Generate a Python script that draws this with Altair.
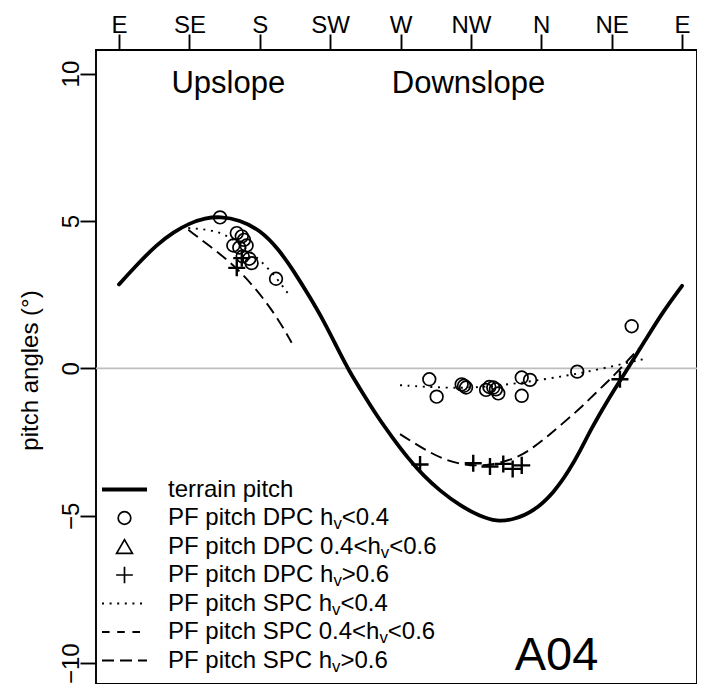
import altair as alt
import pandas as pd

# ---------------- values ----------------
dir_ticks = [90, 135, 180, 225, 270, 315, 360, 405, 450]
dir_labels = ["E", "SE", "S", "SW", "W", "NW", "N", "NE", "E"]
pitch_ticks = [-10, -5, 0, 5, 10]

# terrain pitch (solid thick line)
terrain_az = [90, 103, 114, 125, 135, 145, 155, 167, 180, 192, 202, 212, 221, 229, 237,
              246, 255, 265, 275, 285, 295, 308, 321, 331.5, 342, 355, 368, 378, 385,
              392, 399, 406, 416, 427, 438, 450]
terrain_pitch = [2.85, 3.60, 4.19, 4.63, 4.92, 5.10, 5.15, 5.04, 4.70, 4.05, 3.28, 2.42, 1.60, 0.75, -0.08,
                 -0.85, -1.62, -2.36, -3.06, -3.66, -4.14, -4.66, -5.02, -5.19, -5.14, -4.86, -4.22, -3.45, -2.78,
                 -2.05, -1.40, -0.77, 0.05, 1.00, 1.94, 2.80]

# PF pitch DPC hv<0.4 (circles)
dpc_low_az = [154.6, 165.3, 168.5, 169.9, 163.1, 166.9, 171.6, 169.1, 173.3, 174.8, 190.4,
              288.4, 293.1, 309.1, 310.6, 311.9, 324.7, 326.8, 329.3, 331.0, 332.5, 347.5,
              352.8, 347.5, 383.0, 417.8]
dpc_low_pitch = [5.12, 4.59, 4.48, 4.36, 4.17, 4.10, 4.17, 3.80, 3.72, 3.57, 3.04,
                 -0.37, -0.96, -0.54, -0.59, -0.65, -0.73, -0.63, -0.65, -0.71, -0.85, -0.31,
                 -0.39, -0.93, -0.11, 1.43]

# PF pitch DPC hv>0.6 (plus)
dpc_high_az = [165.3, 168.5, 282.5, 316.5, 327.2, 335.7, 341.7, 347.5, 410.3]
dpc_high_pitch = [3.41, 3.74, -3.26, -3.22, -3.33, -3.24, -3.41, -3.29, -0.37]

# PF pitch SPC hv<0.4 (dotted), upslope and downslope parts
spc_low_up_az = [134.3, 150.3, 163.1, 184.4, 198.2]
spc_low_up_pitch = [4.76, 4.70, 4.42, 3.52, 2.53]
spc_low_down_az = [269.7, 299.5, 320.8, 346.4, 376.3, 397.5, 427.4]
spc_low_down_pitch = [-0.57, -0.67, -0.65, -0.50, -0.25, -0.03, 0.34]

# PF pitch SPC hv>0.6 (long dashes), upslope and downslope parts
spc_high_up_az = [134.3, 152.5, 165.3, 178.0, 190.8, 200.4]
spc_high_up_pitch = [4.70, 3.97, 3.41, 2.67, 1.77, 0.87]
spc_high_down_az = [269.7, 284.6, 297.0, 310.1, 318.0, 327.2, 336.0, 346.4, 355.0, 363.5,
                    374.0, 384.8, 395.0, 406.1, 414.0, 423.1]
spc_high_down_pitch = [-2.23, -2.73, -3.08, -3.27, -3.30, -3.27, -3.17, -2.98, -2.68, -2.33,
                       -1.85, -1.36, -0.82, -0.27, 0.20, 0.70]

legend_main = ["terrain pitch", "PF pitch DPC h", "PF pitch DPC 0.4<h", "PF pitch DPC h",
               "PF pitch SPC h", "PF pitch SPC 0.4<h", "PF pitch SPC h"]
legend_sub = ["", "v", "v", "v", "v", "v", "v"]
legend_tail = ["", "<0.4", "<0.6", ">0.6", "<0.4", "<0.6", ">0.6"]

annot_text = ["Upslope", "Downslope", "A04"]

# ---------------- layout ----------------
FONT = "Liberation Sans, Arial, Helvetica, sans-serif"
PAGE_LEFT, PAGE_TOP = 96, 50
PPD = 1.564      # px per degree of azimuth
PPY = 29.48      # px per degree of pitch
W, H = 601, 634
XMIN = 90 - (119 - PAGE_LEFT) / PPD
XMAX = XMIN + W / PPD
YMAX = 10.8
YMIN = YMAX - H / PPY


def dx(page_x):
    return XMIN + (page_x - PAGE_LEFT) / PPD


def dy(page_y):
    return YMAX - (page_y - PAGE_TOP) / PPY


AW = {'P': 667, 'F': 611, ' ': 278, 'p': 556, 'i': 222, 't': 278, 'c': 500, 'h': 556,
      'D': 722, 'C': 722, 'S': 667, '0': 556, '.': 278, '4': 556, '<': 584, '>': 584,
      '6': 556, 'v': 500, 'e': 556, 'r': 333, 'a': 556, 'n': 556}


def tw(s, fs):
    return sum(AW.get(c, 556) for c in s) / 1000.0 * fs


label_expr = ""
for v, l in zip(dir_ticks, dir_labels):
    label_expr += f"datum.value == {v} ? '{l}' : "
label_expr += "''"

xenc = alt.X("az:Q", scale=alt.Scale(domain=[XMIN, XMAX], nice=False, zero=False),
             axis=alt.Axis(orient="top", values=dir_ticks, labelExpr=label_expr, tickSize=16,
                           tickWidth=1.9, tickColor="black", domain=False, grid=False,
                           labelFontSize=24, labelFont=FONT, labelColor="black", labelPadding=2,
                           labelBaseline="alphabetic", labelFlush=False, labelOverlap=False,
                           title=None))
yenc = alt.Y("pitch:Q", scale=alt.Scale(domain=[YMIN, YMAX], nice=False, zero=False),
             axis=alt.Axis(orient="left", values=pitch_ticks, tickSize=16, tickWidth=1.9,
                           tickColor="black", domain=False, grid=False, labelFontSize=24,
                           labelFont=FONT, labelColor="black", labelPadding=2, labelAngle=270,
                           labelAlign="center", labelBaseline="alphabetic", labelFlush=False,
                           labelOverlap=False, title="pitch angles (°)", titleFont=FONT,
                           titleFontSize=24, titleFontWeight="normal", titleColor="black",
                           titleAngle=270, titleAlign="center", titleBaseline="alphabetic",
                           titleX=-59, titleY=(H + 6) / 2))

# ---------------- data frames ----------------
df_terrain = pd.DataFrame({"az": terrain_az, "pitch": terrain_pitch})
df_low = pd.DataFrame({"az": dpc_low_az, "pitch": dpc_low_pitch})
df_high = pd.DataFrame({"az": dpc_high_az, "pitch": dpc_high_pitch})
df_spc_low = pd.concat([
    pd.DataFrame({"az": spc_low_up_az, "pitch": spc_low_up_pitch, "seg": "up"}),
    pd.DataFrame({"az": spc_low_down_az, "pitch": spc_low_down_pitch, "seg": "down"})])
df_spc_high = pd.concat([
    pd.DataFrame({"az": spc_high_up_az, "pitch": spc_high_up_pitch, "seg": "up"}),
    pd.DataFrame({"az": spc_high_down_az, "pitch": spc_high_down_pitch, "seg": "down"})])

zero = alt.Chart(pd.DataFrame({"pitch": [0.0]})).mark_rule(
    color="#BEBEBE", strokeWidth=1.9).encode(y=yenc)

terrain = alt.Chart(df_terrain).mark_line(
    color="black", strokeWidth=3.8, interpolate="basis", strokeCap="round").encode(x=xenc, y=yenc)

spc_low = alt.Chart(df_spc_low).mark_line(
    color="black", strokeWidth=1.9, strokeDash=[2, 5.6], interpolate="basis").encode(
    x=xenc, y=yenc, detail="seg:N")

spc_high = alt.Chart(df_spc_high).mark_line(
    color="black", strokeWidth=1.9, strokeDash=[12, 6], interpolate="basis").encode(
    x=xenc, y=yenc, detail="seg:N")

PLUS = "M-1,0H1M0,-1V1"

circles = alt.Chart(df_low).mark_point(
    shape="circle", filled=False, color="black", size=160, strokeWidth=1.7, opacity=1).encode(
    x=xenc, y=yenc)

plus = alt.Chart(df_high).mark_point(
    shape=PLUS, filled=False, color="black", size=290, strokeWidth=2.4, opacity=1).encode(
    x=xenc, y=yenc)

# ---------------- legend ----------------
ROW0, ROWSTEP = 489.5, 28.5
rows_y = [ROW0 + ROWSTEP * i for i in range(7)]
LX1, LX2, LSYM, LTXT = 102, 147, 124.5, 168


def leg_line(i, **kw):
    d = pd.DataFrame({"az": [dx(LX1)], "az2": [dx(LX2)], "pitch": [dy(rows_y[i])]})
    return alt.Chart(d).mark_rule(color="black", **kw).encode(
        x=xenc, x2=alt.X2("az2:Q"), y=yenc)


leg_lines = [
    leg_line(0, strokeWidth=3.8),
    leg_line(4, strokeWidth=1.9, strokeDash=[2, 5.6]),
    leg_line(5, strokeWidth=1.9, strokeDash=[7.6, 7.6]),
    leg_line(6, strokeWidth=1.9, strokeDash=[12, 6]),
]


def leg_sym(i, shape, size):
    d = pd.DataFrame({"az": [dx(LSYM)], "pitch": [dy(rows_y[i])]})
    return alt.Chart(d).mark_point(shape=shape, filled=False, color="black", size=size,
                                   strokeWidth=1.7, opacity=1).encode(x=xenc, y=yenc)


leg_syms = [leg_sym(1, "circle", 160), leg_sym(2, "triangle-up", 250), leg_sym(3, PLUS, 280)]

txt_rows = []
for i in range(7):
    base_y = rows_y[i] + 7
    x0 = LTXT
    txt_rows.append({"az": dx(x0), "pitch": dy(base_y), "t": legend_main[i], "fs": 24})
    if legend_sub[i]:
        x1 = x0 + tw(legend_main[i], 24)
        txt_rows.append({"az": dx(x1), "pitch": dy(base_y + 4), "t": legend_sub[i], "fs": 16.8})
        x2 = x1 + tw(legend_sub[i], 16.8)
        txt_rows.append({"az": dx(x2), "pitch": dy(base_y), "t": legend_tail[i], "fs": 24})
df_leg_txt = pd.DataFrame(txt_rows)

leg_text = alt.Chart(df_leg_txt).mark_text(
    align="left", baseline="alphabetic", font=FONT, color="black").encode(
    x=xenc, y=yenc, text="t:N", size=alt.Size("fs:Q", scale=None, legend=None))

# ---------------- annotations ----------------
df_annot = pd.DataFrame({
    "t": annot_text,
    "az": [dx(228.3), dx(468.5), dx(556.5)],
    "pitch": [dy(92.5), dy(92.5), dy(670)],
    "fs": [31, 31, 47],
})
annot = alt.Chart(df_annot).mark_text(
    align="center", baseline="alphabetic", font=FONT, color="black").encode(
    x=xenc, y=yenc, text="t:N", size=alt.Size("fs:Q", scale=None, legend=None))

chart = alt.layer(
    zero, terrain, spc_low, spc_high, circles, plus,
    *leg_lines, *leg_syms, leg_text, annot
).properties(
    width=W, height=H,
    padding={"left": PAGE_LEFT - 8, "top": PAGE_TOP - 8, "right": 0, "bottom": 0},
    autosize=alt.AutoSizeParams(type="none"),
    background="white",
).configure_view(stroke="black", strokeWidth=1.9)

chart.save("out.html", embed_options={"renderer": "svg", "actions": False})
